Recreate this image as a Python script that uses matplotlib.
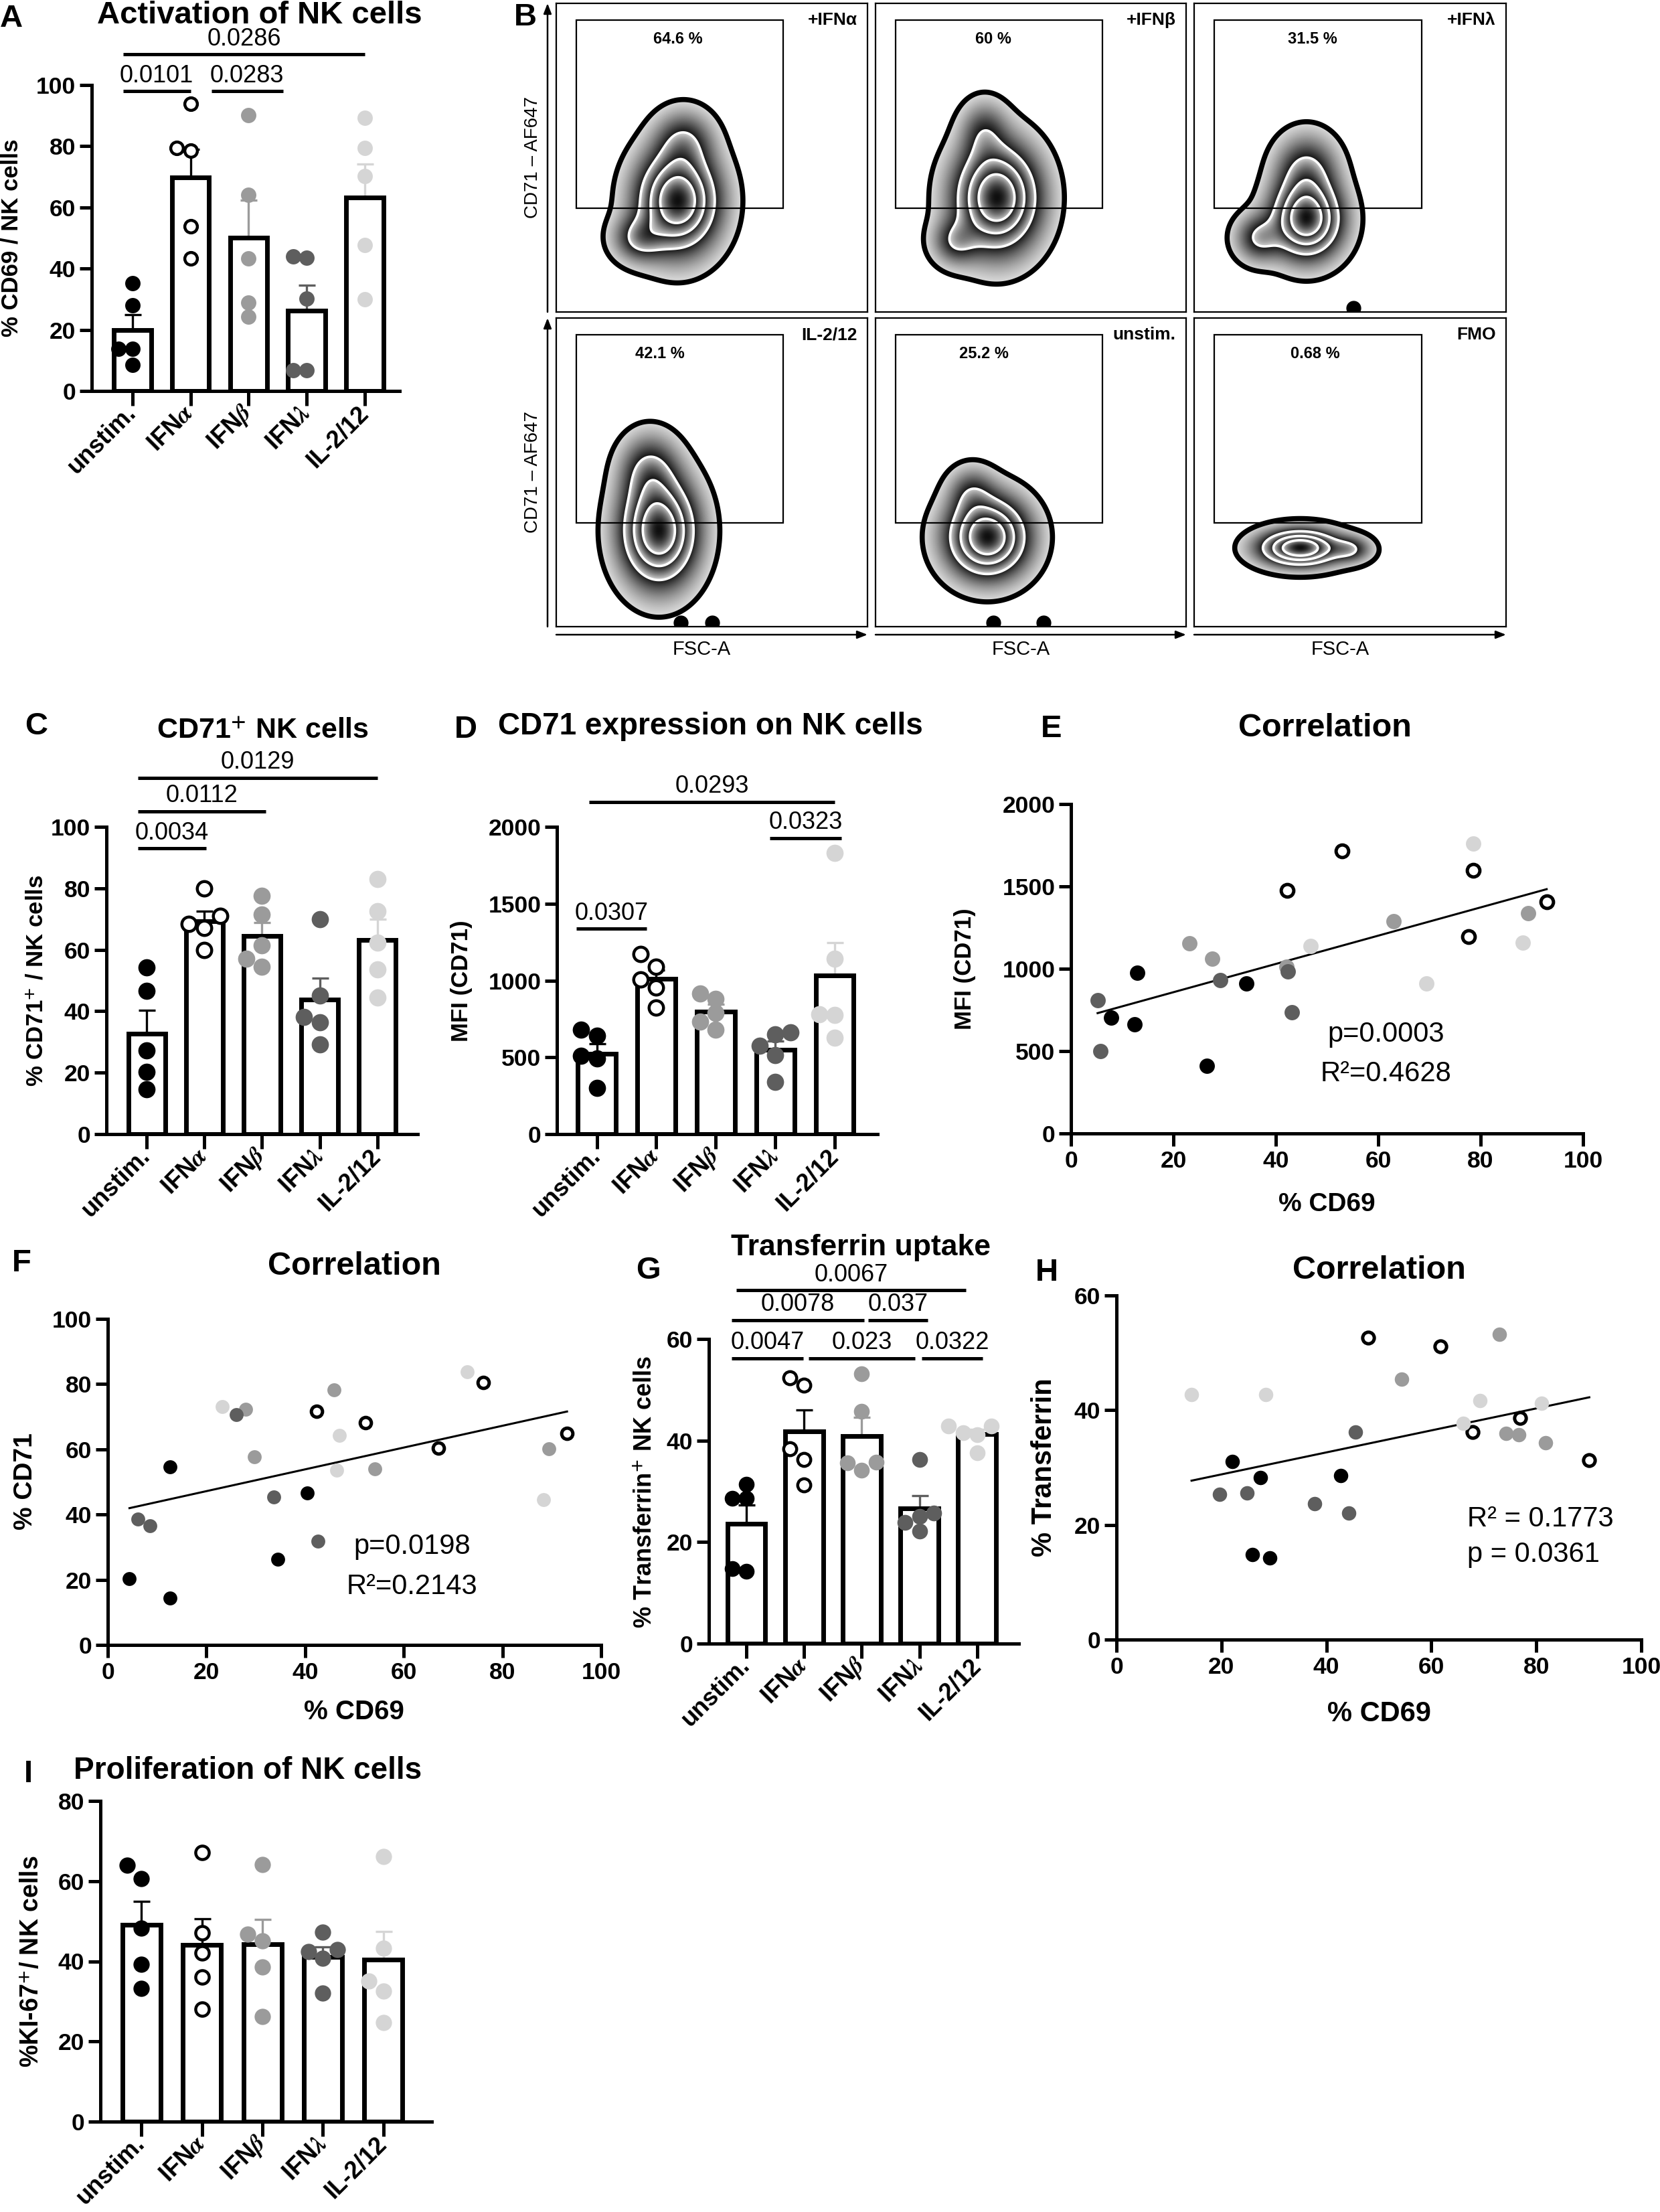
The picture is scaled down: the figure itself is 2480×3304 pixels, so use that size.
import numpy as np
import matplotlib
matplotlib.use("Agg")
import matplotlib.pyplot as plt
from matplotlib.patches import Rectangle

plt.rcParams['font.family'] = ['Liberation Sans', 'DejaVu Sans']
plt.rcParams['mathtext.fontset'] = 'stix'
plt.rcParams['font.weight'] = 'bold'
plt.rcParams['axes.linewidth'] = 3.6

W, H = 2480, 3304

# ---- data -------------------------------------------------------------
cats = ['unstim.', r'IFN$\alpha$', r'IFN$\beta$', r'IFN$\lambda$', 'IL-2/12']

# A: % CD69 / NK cells
cd69 = [[35.3, 27.9, 13.7, 13.7, 8.6],
        [93.8, 79.5, 78.6, 53.8, 43.3],
        [90.1, 64.1, 43.3, 28.8, 24.2],
        [44.0, 43.5, 30.1, 6.7, 6.7],
        [89.2, 79.5, 70.2, 47.7, 29.9]]
# C: % CD71+ / NK cells
cd71_pct = [[54.2, 46.6, 27.3, 20.3, 14.6],
            [80.0, 71.0, 68.5, 67.2, 59.9],
            [77.5, 71.5, 61.5, 57.0, 54.5],
            [69.9, 45.2, 38.1, 36.3, 29.3],
            [83.1, 72.6, 62.3, 53.6, 44.4]]
# D: MFI (CD71)
cd71_mfi = [[678, 639, 509, 492, 299],
            [1170, 1090, 1008, 953, 823],
            [880, 915, 790, 730, 680],
            [661, 650, 574, 514, 340],
            [1831, 1142, 780, 774, 628]]
# G: % Transferrin+ NK cells
transf = [[31.4, 28.6, 28.6, 14.8, 14.3],
          [52.4, 50.9, 38.4, 36.2, 31.3],
          [53.1, 45.7, 35.8, 35.6, 34.1],
          [36.2, 25.7, 25.1, 23.9, 22.2],
          [42.9, 42.9, 41.5, 41.2, 37.6]]
# I: % KI-67+ / NK cells
ki67 = [[63.9, 60.7, 48.2, 39.2, 33.2],
        [67.1, 47.1, 42.1, 36.0, 28.0],
        [64.2, 46.8, 45.1, 38.6, 26.2],
        [47.3, 43.0, 42.4, 40.7, 32.0],
        [66.1, 43.2, 35.1, 32.6, 24.8]]

# E: % CD69 vs MFI CD71
e_x = [[7.9, 12.4, 12.9, 26.6, 34.2], [42.2, 53.0, 78.5, 77.6, 92.9],
       [23.1, 27.6, 42.1, 63.0, 89.3], [5.2, 5.8, 29.2, 42.4, 43.1],
       [46.8, 69.4, 78.5, 88.3]]
e_y = [[704, 663, 976, 410, 909], [1475, 1717, 1598, 1194, 1406],
       [1154, 1063, 1012, 1289, 1339], [808, 499, 931, 982, 735],
       [1139, 909, 1762, 1160]]
# F: % CD69 vs % CD71
f_x = [[4.4, 12.6, 12.6, 34.4, 40.5], [42.4, 52.3, 67.0, 76.1, 93.1],
       [27.9, 29.7, 45.9, 54.2, 89.4], [6.1, 8.5, 26.0, 33.6, 42.6],
       [23.2, 47.0, 46.4, 72.9, 88.3]]
f_y = [[20.3, 14.3, 54.6, 26.2, 46.7], [71.7, 68.2, 60.3, 80.4, 64.9],
       [72.2, 57.8, 78.3, 54.0, 60.1], [38.6, 36.5, 70.6, 45.4, 31.8],
       [73.0, 64.3, 53.6, 83.7, 44.6]]
# H: % CD69 vs % Transferrin
h_x = [[22.1, 27.4, 25.9, 29.2, 42.7], [48.0, 61.7, 67.9, 76.9, 90.1],
       [54.3, 72.9, 74.2, 76.6, 81.7], [19.6, 24.9, 37.8, 44.3, 45.5],
       [14.3, 28.5, 66.1, 69.3, 81.0]]
h_y = [[31.0, 28.3, 14.8, 14.2, 28.6], [52.7, 51.1, 36.2, 38.6, 31.25],
       [45.4, 53.2, 35.9, 35.7, 34.3], [25.3, 25.6, 23.7, 22.1, 36.2],
       [42.7, 42.7, 37.7, 41.7, 41.25]]

# p-value brackets: (from, to, height, label)
sig_a = [(-0.16, 1.0, 98, '0.0101'), (1.36, 2.59, 98, '0.0283'),
         (-0.16, 4.0, 110, '0.0286')]
sig_c = [(-0.16, 1.03, 93, '0.0034'), (-0.16, 2.06, 105, '0.0112'),
         (-0.16, 4.0, 116, '0.0129')]
sig_d = [(-0.34, 0.84, 1337, '0.0307'), (-0.13, 4.0, 2162, '0.0293'),
         (2.91, 4.11, 1928, '0.0323')]
sig_g = [(-0.25, 0.98, 56.2, '0.0047'), (1.08, 2.92, 56.2, '0.023'),
         (3.04, 4.09, 56.2, '0.0322'), (-0.25, 2.04, 63.7, '0.0078'),
         (2.11, 3.14, 63.7, '0.037'), (-0.17, 3.8, 69.6, '0.0067')]

# B: flow plots
b_cond = ['+IFNα', '+IFNβ', '+IFNλ', 'IL-2/12', 'unstim.', 'FMO']
b_pct = ['64.6 %', '60 %', '31.5 %', '42.1 %', '25.2 %', '0.68 %']
b_blobs = [
    [(0.39, 0.36, 0.075, 0.095, 1.0), (0.27, 0.24, 0.05, 0.045, 0.3), (0.41, 0.55, 0.055, 0.06, 0.25)],
    [(0.39, 0.37, 0.078, 0.10, 1.0), (0.26, 0.23, 0.045, 0.045, 0.25), (0.35, 0.58, 0.045, 0.06, 0.2)],
    [(0.36, 0.30, 0.065, 0.072, 1.0), (0.36, 0.45, 0.058, 0.07, 0.35), (0.21, 0.24, 0.045, 0.045, 0.3)],
    [(0.33, 0.31, 0.07, 0.10, 1.0), (0.30, 0.50, 0.055, 0.07, 0.3)],
    [(0.36, 0.29, 0.075, 0.075, 1.0), (0.31, 0.43, 0.045, 0.05, 0.2)],
    [(0.34, 0.255, 0.075, 0.034, 1.0), (0.50, 0.25, 0.04, 0.025, 0.25)],
]
b_events = [[], [], [0.51], [0.40, 0.50], [0.38, 0.54], []]

fc = ['black', 'white', '#9b9b9b', '#5e5e5e', '#d5d5d5']
ec = ['black', 'black', '#9b9b9b', '#5e5e5e', '#d5d5d5']

fig = plt.figure(figsize=(W / 100, H / 100), dpi=100)


def px_axes(x0, y0, x1, y1):
    return fig.add_axes([x0 / W, 1 - y1 / H, (x1 - x0) / W, (y1 - y0) / H])


def swarm(ax, x0, vals, ms):
    d = ms * fig.dpi / 72
    placed = []
    offs = np.zeros(len(vals))
    for idx in np.argsort(vals):
        ypx = ax.transData.transform((x0, vals[idx]))[1]
        for k in [0, -1, 1, -2, 2, -3, 3]:
            xo = k * d * 0.9
            if all(np.hypot(xo - px, ypx - py) >= d * 0.8 for px, py in placed):
                break
        placed.append((xo, ypx))
        offs[idx] = xo
    unit = ax.transData.transform((1, 0))[0] - ax.transData.transform((0, 0))[0]
    return offs / unit


def style(ax, ylim, yticks, xlen=16):
    ax.spines['top'].set_visible(False)
    ax.spines['right'].set_visible(False)
    ax.set_ylim(*ylim)
    ax.set_yticks(yticks)
    ax.tick_params(axis='y', length=13, width=3.6, labelsize=25.5, pad=4)
    ax.tick_params(axis='x', length=xlen, width=3.6, labelsize=25.5, pad=4)
    for t in ax.get_yticklabels() + ax.get_xticklabels():
        t.set_fontweight('bold')


def bar_panel(ax, data, xlim, ylim, yticks, ms, sig, width=0.64):
    ax.set_xlim(*xlim)
    ax.set_ylim(*ylim)
    for i, vals in enumerate(data):
        v = np.array(vals, float)
        m = v.mean()
        se = v.std(ddof=1) / np.sqrt(len(v))
        ax.bar(i, m, width=width, color='white', edgecolor='black', linewidth=5, zorder=2)
        ax.errorbar(i, m, yerr=[[0], [se]], fmt='none', ecolor=ec[i], elinewidth=2.4,
                    capsize=9, capthick=2.4, zorder=1)
        off = swarm(ax, i, v, ms)
        if i == 1:
            ax.scatter(i + off, v, s=(ms - 3) ** 2, facecolor='white', edgecolor='black',
                       linewidths=3.2, zorder=3, clip_on=False)
        else:
            ax.scatter(i + off, v, s=ms ** 2, color=fc[i], linewidths=0, zorder=3, clip_on=False)
    for x0, x1, y, lab in sig:
        ax.plot([x0, x1], [y, y], color='black', lw=3.6, solid_capstyle='butt', clip_on=False)
        ax.annotate(lab, ((x0 + x1) / 2, y), xytext=(0, 4), textcoords='offset points',
                    ha='center', va='bottom', fontsize=26, fontweight='normal',
                    annotation_clip=False)
    style(ax, ylim, yticks)
    ax.set_xticks(range(len(cats)))
    ax.set_xticklabels(cats, rotation=45, ha='right', va='center', rotation_mode='anchor',
                       fontsize=26, fontweight='bold')


def corr_panel(ax, xs, ys, ms, ylim, yticks, stats, stat_ha='center'):
    for g in range(5):
        if g == 1:
            ax.scatter(xs[g], ys[g], s=(ms - 3) ** 2, facecolor='white', edgecolor='black',
                       linewidths=3.6, zorder=3, clip_on=False)
        else:
            ax.scatter(xs[g], ys[g], s=ms ** 2, color=fc[g], linewidths=0, zorder=3, clip_on=False)
    ax_ = np.concatenate([np.array(a, float) for a in xs])
    ay_ = np.concatenate([np.array(a, float) for a in ys])
    b, a = np.polyfit(ax_, ay_, 1)
    xx = np.array([ax_.min(), ax_.max()])
    ax.plot(xx, a + b * xx, color='black', lw=2.2, zorder=2)
    ax.set_xlim(0, 100)
    ax.set_xticks([0, 20, 40, 60, 80, 100])
    style(ax, ylim, yticks, xlen=14)
    for x, y, s in stats:
        ax.text(x, y, s, ha=stat_ha, va='center', fontsize=30, fontweight='normal')


# ---- A ----
axA = px_axes(137, 127, 597, 584)
bar_panel(axA, cd69, (-0.7, 4.6), (0, 100), [0, 20, 40, 60, 80, 100], 16.5, sig_a)

# ---- C ----
axC = px_axes(159, 1235, 624, 1694)
bar_panel(axC, cd71_pct, (-0.7, 4.7), (0, 100), [0, 20, 40, 60, 80, 100], 18.5, sig_c)

# ---- D ----
axD = px_axes(832, 1235, 1311, 1694)
bar_panel(axD, cd71_mfi, (-0.67, 4.72), (0, 2000), [0, 500, 1000, 1500, 2000], 18.5, sig_d)

# ---- G ----
axG = px_axes(1059, 2000, 1522, 2455)
bar_panel(axG, transf, (-0.65, 4.72), (0, 60), [0, 20, 40, 60], 17, sig_g, width=0.66)

# ---- I ----
axI = px_axes(150, 2690, 645, 3169)
bar_panel(axI, ki67, (-0.68, 4.8), (0, 80), [0, 20, 40, 60, 80], 17.5, [], width=0.63)

# ---- E ----
axE = px_axes(1600, 1201, 2365, 1693)
corr_panel(axE, e_x, e_y, 16.5, (0, 2000), [0, 500, 1000, 1500, 2000],
           [(61.5, 602, 'p=0.0003'), (61.5, 360, 'R²=0.4628')])

# ---- F ----
axF = px_axes(161, 1970, 898, 2457)
corr_panel(axF, f_x, f_y, 15, (0, 100), [0, 20, 40, 60, 80, 100],
           [(61.7, 30.2, 'p=0.0198'), (61.7, 17.8, 'R²=0.2143')])

# ---- H ----
axH = px_axes(1668, 1935, 2452, 2449)
corr_panel(axH, h_x, h_y, 15.5, (0, 60), [0, 20, 40, 60],
           [(66.8, 21.0, 'R² = 0.1773'), (66.8, 14.8, 'p = 0.0361')], stat_ha='left')

# ---- B: flow cytometry zebra plots ----
cols = [(831, 1296), (1308, 1772), (1784, 2250)]
rows = [(5, 466), (475, 936)]
pct_x = [0.39, 0.38, 0.38, 0.333, 0.35, 0.387]
g = np.linspace(0, 1, 500)
GX, GY = np.meshgrid(g, g)
lv = np.array([0.02, 0.28, 0.52, 0.76, 1.0001])
for k in range(6):
    r, c = divmod(k, 3)
    ax = px_axes(cols[c][0], rows[r][0], cols[c][1], rows[r][1])
    Z = np.zeros_like(GX)
    for cx, cy, sx, sy, w in b_blobs[k]:
        Z += w * np.exp(-((GX - cx) ** 2 / (2 * sx ** 2) + (GY - cy) ** 2 / (2 * sy ** 2)))
    Z /= Z.max()
    band = np.clip(np.searchsorted(lv, Z, side='right') - 1, 0, len(lv) - 2)
    t = np.clip((Z - lv[band]) / (lv[band + 1] - lv[band]), 0, 1)
    shade = np.ma.masked_where(Z < lv[0], 0.88 - 0.82 * t ** 0.8)
    ax.imshow(shade, extent=(0, 1, 0, 1), origin='lower', cmap='gray', vmin=0, vmax=1,
              aspect='auto', interpolation='bilinear')
    ax.contour(GX, GY, Z, levels=lv[1:-1], colors='white', linewidths=2.6)
    ax.contour(GX, GY, Z, levels=[lv[0]], colors='black', linewidths=5.5)
    if b_events[k]:
        ax.scatter(b_events[k], [0.012] * len(b_events[k]), s=15 ** 2, color='black', zorder=4)
    ax.add_patch(Rectangle((0.065, 0.336), 0.665, 0.61, fill=False, lw=1.6, ec='black', zorder=5))
    ax.text(pct_x[k], 0.885, b_pct[k], ha='center', va='center', fontsize=17, fontweight='bold')
    ax.text(0.967, 0.945, b_cond[k], ha='right', va='center', fontsize=19, fontweight='bold')
    ax.set_xlim(0, 1)
    ax.set_ylim(0, 1)
    ax.set_xticks([])
    ax.set_yticks([])
    for s in ax.spines.values():
        s.set_linewidth(1.6)

# ---- overlay: letters, titles, labels, arrows ----
ov = fig.add_axes([0, 0, 1, 1])
ov.set_xlim(0, W)
ov.set_ylim(H, 0)
ov.axis('off')
ov.patch.set_alpha(0)

for s, x, y in [('A', 0, 6), ('B', 768, 4), ('C', 37, 1063), ('D', 679, 1068),
                ('E', 1555, 1067), ('F', 18, 1865), ('G', 950, 1876), ('H', 1547, 1879),
                ('I', 36, 2628)]:
    ov.text(x, y, s, ha='left', va='top', fontsize=34, fontweight='bold')

for s, x, y, fs in [('Activation of NK cells', 388, 23, 34),
                    (r'CD71$^{\mathbf{+}}$ NK cells', 393, 1092, 31),
                    ('CD71 expression on NK cells', 1061, 1085, 33),
                    ('Correlation', 1979, 1087, 35),
                    ('Correlation', 529, 1891, 35),
                    ('Transferrin uptake', 1286, 1863, 32),
                    ('Correlation', 2060, 1897, 35),
                    ('Proliferation of NK cells', 370, 2645, 33)]:
    ov.text(x, y, s, ha='center', va='center', fontsize=fs, fontweight='bold')

for s, x, y, fs in [('% CD69 / NK cells', 17, 355, 25),
                    (r'% CD71$^{\mathbf{+}}$ / NK cells', 55, 1465, 25),
                    ('MFI (CD71)', 689, 1465, 25),
                    ('MFI (CD71)', 1442, 1447, 25),
                    ('% CD71', 38, 2213, 28),
                    (r'% Transferrin$^{\mathbf{+}}$ NK cells', 965, 2228, 26),
                    ('% Transferrin', 1560, 2192, 30),
                    (r'%KI-67$^{\mathbf{+}}$/ NK cells', 48, 2930, 27)]:
    ov.text(x, y, s, ha='center', va='center', rotation=90, fontsize=fs, fontweight='bold')

for x, y, fs in [(1982, 1799, 28), (529, 2557, 29), (2060, 2560, 30)]:
    ov.text(x, y, '% CD69', ha='center', va='center', fontsize=fs, fontweight='bold')

arrow = dict(arrowstyle='-|>,head_length=0.9,head_width=0.35', lw=1.8, color='black',
             shrinkA=0, shrinkB=0)
for x0, x1 in cols:
    ov.annotate('', xy=(x1, 948), xytext=(x0, 948), arrowprops=arrow)
    ov.text((x0 + x1) / 2 - 15, 970, 'FSC-A', ha='center', va='center', fontsize=21,
            fontweight='normal')
for y0, y1 in rows:
    ov.annotate('', xy=(818, y0), xytext=(818, y1), arrowprops=arrow)
    ov.text(796, (y0 + y1) / 2, 'CD71 – AF647', ha='center', va='center', rotation=90,
            fontsize=20, fontweight='normal')

fig.savefig('out.png', dpi=100)
